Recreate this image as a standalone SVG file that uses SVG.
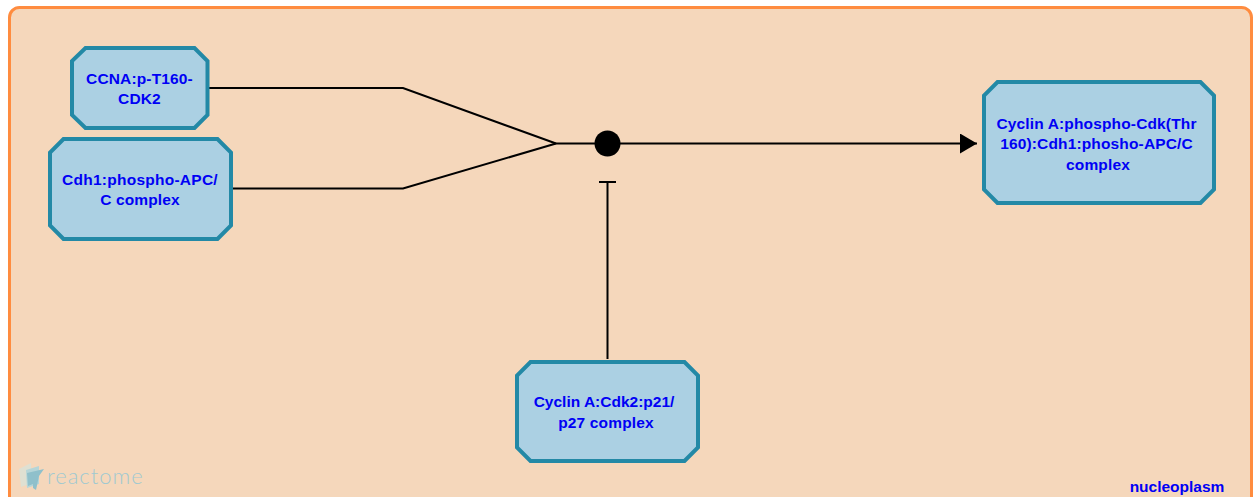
<svg xmlns="http://www.w3.org/2000/svg" width="1255" height="497" viewBox="0 0 1255 497">
<style>
.node{fill:#ABD0E3;stroke:#2389A6;stroke-width:4}
.lbl{font-family:"Liberation Sans",Arial,sans-serif;font-size:15.500px;font-weight:bold;fill:#0000F5;text-anchor:middle;letter-spacing:.15px}
.edge{fill:none;stroke:#000;stroke-width:2}
</style>
<defs>
<marker id="arrow" markerUnits="userSpaceOnUse" markerWidth="18" markerHeight="20" refX="17" refY="10" orient="auto"><path d="M0 0L17 10L0 20Z" fill="#000"/></marker>
</defs>
<g id="compartment-nucleoplasm">
<rect x="9.500" y="7.500" width="1242" height="510" rx="10" ry="10" fill="#F5D7BB" stroke="#FF8C3F" stroke-width="3"/>
<text x="1177" y="492" class="lbl" style="letter-spacing:0">nucleoplasm</text>
</g>
<g id="logo">
<polygon points="19,469 31,463 32,483 21,487" fill="#DFE0D2"/>
<polygon points="26,470 39,466 39,484 27,488" fill="#B5D5D8"/>
<polygon points="27,473 44,469 39,476 36,490 33,488 33,484 28,486" fill="#8FC0CB"/>
<text x="47" y="484" font-family="Lato,'Liberation Sans',sans-serif" font-weight="300" font-size="22" letter-spacing="1" fill="#9FC9D1">reactome</text>
</g>
<g id="connectors">
<path class="edge" d="M209 88H403L556 143.500"/>
<path class="edge" d="M233 188.500H403L556 143.500"/>
<path class="edge" d="M556 143.500H595"/>
<path class="edge" d="M620 143.500H977" marker-end="url(#arrow)"/>
<path class="edge" d="M607.500 359V182M599 182H616"/>
<circle cx="607.500" cy="143.500" r="13" fill="#000"/>
</g>
<g id="node-ccna">
<path class="node" d="M85.500 48H194.500L207.500 61V115L194.500 128H85.500L72 115V61Z"/>
<text x="139.500" y="84" class="lbl">CCNA:p-T160-</text>
<text x="139.500" y="104" class="lbl">CDK2</text>
</g>
<g id="node-cdh1">
<path class="node" d="M63.500 139H217.500L231 152.500V225.500L217.500 239H63.500L50 225.500V152.500Z"/>
<text x="140" y="185" class="lbl" style="letter-spacing:.25px">Cdh1:phospho-APC/</text>
<text x="140" y="205" class="lbl">C complex</text>
</g>
<g id="node-cyclin-phospho">
<path class="node" d="M997.500 82H1200.500L1214 95.500V189.500L1200.500 203H997.500L984 189.500V95.500Z"/>
<text x="1096.500" y="129" class="lbl">Cyclin A:phospho-Cdk(Thr</text>
<text x="1096.500" y="149" class="lbl">160):Cdh1:phosho-APC/C</text>
<text x="1098" y="170" class="lbl">complex</text>
</g>
<g id="node-cyclin-p21">
<path class="node" d="M530.500 362H684.500L698 375.500V447.500L684.500 461H530.500L517 447.500V375.500Z"/>
<text x="604" y="407" class="lbl" style="letter-spacing:0">Cyclin A:Cdk2:p21/</text>
<text x="606" y="428" class="lbl">p27 complex</text>
</g>
</svg>
